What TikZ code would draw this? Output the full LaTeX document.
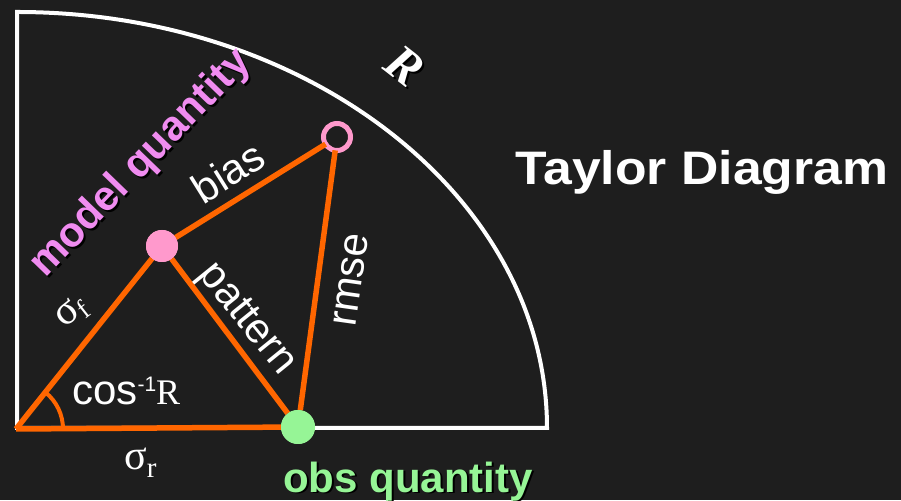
\documentclass[tikz,border=0pt]{standalone}
\usepackage{fontspec}
\setmainfont{Liberation Serif}
\newfontfamily\sansf{Liberation Sans}
\definecolor{bg}{RGB}{30,30,30}
\definecolor{orng}{RGB}{255,102,0}
\definecolor{pinkdot}{RGB}{255,153,204}
\definecolor{violetq}{RGB}{240,140,240}
\definecolor{greenq}{RGB}{150,245,150}
\begin{document}
\begin{tikzpicture}[x=1pt,y=1pt,
  frame/.style={draw=white, line width=4, line join=miter},
  conn/.style={draw=orng, line width=5.5},
  lbl/.style={text=white, inner sep=0, font=\sansf\fontsize{42}{44}\selectfont},
  boldlbl/.style={inner sep=0, font=\sansf\bfseries\fontsize{42}{44}\selectfont},
  shadowtxt/.style={text=black},
  dotf/.style={circle, fill=pinkdot, minimum size=32, inner sep=0, outer sep=0},
  dotr/.style={circle, fill=greenq, minimum size=34, inner sep=0, outer sep=0},
  dotm/.style={circle, draw=pinkdot, line width=5, minimum size=27, inner sep=0, outer sep=0}]
\fill[bg] (0,0) rectangle (901,500);
\useasboundingbox (0,0) rectangle (901,500);
% frame
\draw[frame] (17,488) arc[start angle=90, end angle=0, x radius=530, y radius=416] -- (17,72) -- cycle;
% points
\coordinate (o) at (16,71);
\node[dotf] (f) at (162,254) {};
\node[dotr] (r) at (298,73) {};
\node[dotm] (m) at (337,363) {};
% connectors
\draw[conn] (o) -- (f);
\draw[conn] (o) -- (r);
\draw[conn] (f) -- (r);
\draw[conn] (f) -- (m);
\draw[conn] (m) -- (r);
\node[dotr] (r2) at (298,73) {};
\node[dotf] (f2) at (162,254) {};
% angle
\draw[orng, line width=4] (o) ++(47,0) arc[start angle=0, end angle=51, radius=47];
% labels
\node[boldlbl, shadowtxt, rotate=46] (mqs) at (143,334) {model quantity};
\node[boldlbl, text=violetq, rotate=46] (mq) at (141,336) {model quantity};
\node[boldlbl, shadowtxt, anchor=base] (oqs) at (410,6) {obs quantity};
\node[boldlbl, text=greenq, anchor=base] (oq) at (408,8) {obs quantity};
\node[inner sep=0, anchor=base, text=white, xscale=1.1, font=\sansf\bfseries\fontsize{47}{50}\selectfont] (title) at (702,315) {Taylor Diagram};
\node[lbl, rotate=32] (bias) at (228,328) {bias};
\node[lbl, rotate=-51] (pattern) at (246,180) {pattern};
\node[lbl, rotate=82] (rmse) at (351,220) {rmse};
\node[inner sep=0, anchor=base west, text=white] (cosr) at (72,95)
  {{\sansf\fontsize{42}{44}\selectfont cos\raisebox{13pt}{\fontsize{21}{22}\selectfont -1}}{\fontsize{36}{38}\selectfont R}};
\node[inner sep=0, anchor=base west, text=white] (sr) at (124,30)
  {{\fontsize{42}{44}\selectfont σ}\raisebox{-8pt}{\fontsize{29}{30}\selectfont r}};
\node[inner sep=0, text=white, rotate=38] (sf) at (72,187)
  {{\fontsize{42}{44}\selectfont σ}\raisebox{-6pt}{\fontsize{27}{28}\selectfont f}};
\node[inner sep=0, text=black, rotate=-38, font=\bfseries\itshape\fontsize{50}{52}\selectfont] (Rs) at (407,432) {R};
\node[inner sep=0, text=white, rotate=-38, font=\bfseries\itshape\fontsize{50}{52}\selectfont] (R) at (405,434) {R};
\end{tikzpicture}
\end{document}
